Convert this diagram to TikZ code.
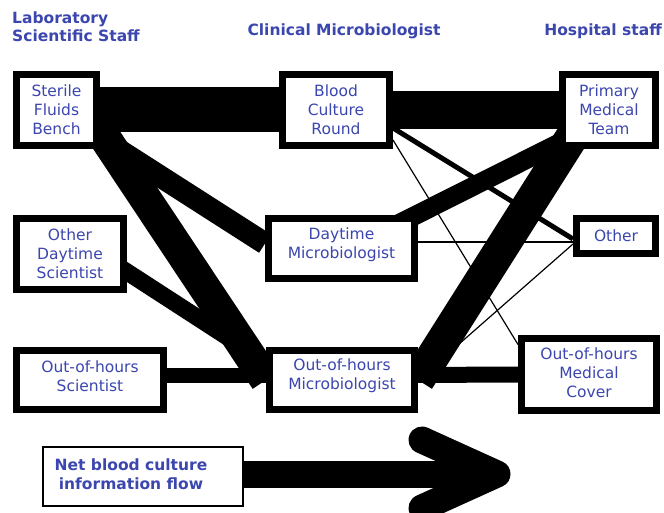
\documentclass[tikz,border=0pt]{standalone}
\usepackage{fontspec}
\setmainfont{DejaVu Sans}
\usetikzlibrary{backgrounds}
\definecolor{txtblue}{RGB}{60,70,175}
\begin{document}
\begin{tikzpicture}[x=1pt,y=-1pt,
  box/.style={draw, line width=7pt, fill=white, inner sep=0pt, align=center,
    text=txtblue, font=\fontsize{15.5}{19}\selectfont},
  raisedtext/.style={text depth=11pt},
  hdr/.style={text=txtblue, font=\fontsize{15.5}{18}\selectfont\bfseries, inner sep=0pt},
  thinlink/.style={line width=1.2pt},
]
\useasboundingbox (0,0) rectangle (664,513);
\clip (0,0) rectangle (664,513);

% headers
\node[hdr, align=left, anchor=west] (hlab) at (12,27) {Laboratory\\Scientific Staff};
\node[hdr] (hcm) at (344,31) {Clinical Microbiologist};
\node[hdr, anchor=east] (hhs) at (662,31) {Hospital staff};

% boxes
\node[box, minimum width=80, minimum height=71] (sfb) at (56.5,110) {Sterile\\Fluids\\Bench};
\node[box, minimum width=107, minimum height=71] (bcr) at (336,110) {Blood\\Culture\\Round};
\node[box, minimum width=93, minimum height=71] (pmt) at (609,110) {Primary\\Medical\\Team};
\node[box, minimum width=107, minimum height=71] (ods) at (70,254) {Other\\Daytime\\Scientist};
\node[box, raisedtext, minimum width=146, minimum height=60] (dm) at (341.5,248.5) {Daytime\\Microbiologist};
\node[box, minimum width=79, minimum height=35] (oth) at (616,236) {Other};
\node[box, text depth=8pt, minimum width=147, minimum height=59] (oohs) at (90,380) {Out-of-hours\\Scientist};
\node[box, raisedtext, minimum width=145, minimum height=59] (oohm) at (342,380) {Out-of-hours\\Microbiologist};
\node[box, text depth=3pt, minimum width=135, minimum height=72] (omc) at (589,374.5) {Out-of-hours\\Medical\\Cover};

\begin{pgfonlayer}{background}
\fill[white] (0,0) rectangle (664,513);
\draw[line width=45pt] (sfb.center) -- (bcr.center);
\draw[line width=38pt] (bcr.center) -- (pmt.center);
\draw[line width=32pt] ([xshift=30pt]sfb.center) -- (oohm.west);
\draw[line width=22pt] (sfb.center) -- ([yshift=5pt]dm.west);
\draw[line width=17pt] ([yshift=19pt]ods.center) -- ([yshift=18pt]oohm.west);
\draw[line width=15pt] ([yshift=5pt]oohs.center) -- ([yshift=5pt]oohm.center);
\draw[line width=16pt] ([yshift=5pt]oohm.center) -- (omc.center);
\draw[line width=33pt] ([xshift=-20pt]pmt.center) -- (oohm.east);
\draw[line width=19pt] ([yshift=-4pt]dm.center) -- ([yshift=-8pt]pmt.center);
\draw[line width=5pt] ([yshift=-18pt]bcr.east) -- ([yshift=-3pt]oth.west);
\draw[thinlink] ([yshift=-30pt]bcr.east) -- ([yshift=30pt]omc.west);
\draw[thinlink] ([yshift=6.5pt]dm.east) -- ([yshift=-6pt]oth.west);
\draw[thinlink] ([yshift=-8pt]oth.west) -- (oohm.east);
\end{pgfonlayer}

% legend
\node[draw, line width=1.5pt, minimum width=200, minimum height=59, inner sep=0pt,
  text=txtblue, font=\fontsize{15.5}{19}\selectfont\bfseries] (legend) at (143,476.5)
  {\raisebox{5pt}{\begin{tabular}{@{}c@{}}Net blood culture\\information flow\end{tabular}}\hspace*{24pt}};
\coordinate (tip) at (497,474);
\coordinate (armtop) at (422,440);
\coordinate (armbot) at (422,508);
\draw[line width=27pt] (legend.east |- tip) -- (tip);
\draw[line width=27pt, line cap=round, line join=round] (armtop) -- (tip) -- (armbot);
\end{tikzpicture}
\end{document}
